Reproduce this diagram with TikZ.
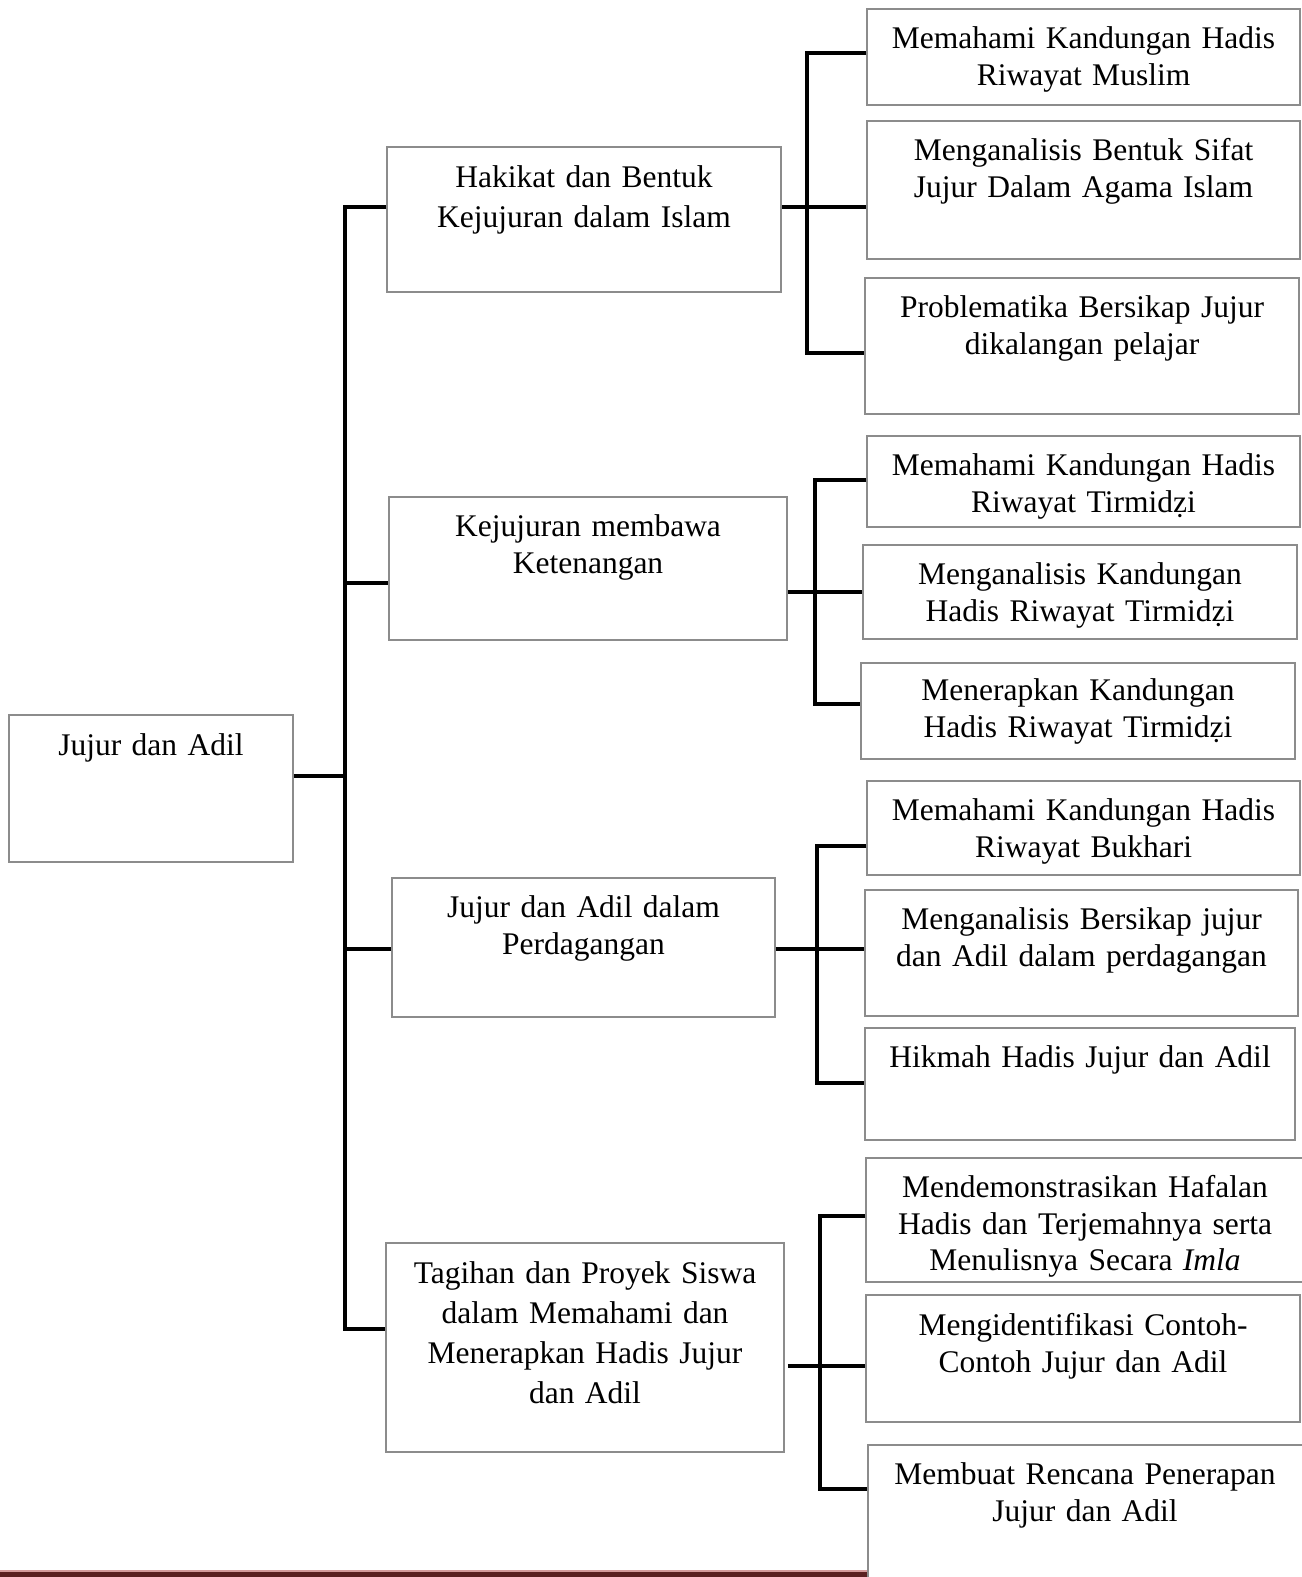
\documentclass[tikz,border=0pt]{standalone}
\usepackage{fontspec}
\setmainfont{Liberation Serif}
\usetikzlibrary{fit}
\definecolor{boxgray}{HTML}{8C8C8C}
\definecolor{barpink}{HTML}{D49A9A}
\definecolor{bardark}{HTML}{5A2020}
\newcommand{\fl}{\rule{0pt}{12pt}}
\begin{document}
\begin{tikzpicture}[x=0.5pt,y=-0.5pt,
  box/.style={draw=boxgray,line width=0.75pt,inner sep=0pt},
  conn/.style={draw=black,line width=1.7pt,line join=miter},
  txt/.style={anchor=north,inner sep=0pt,text width=230pt,align=center,font=\fontsize{15.75pt}{18.35pt}\selectfont},
  txtw/.style={txt,font=\fontsize{15.75pt}{20pt}\selectfont},
  txtm/.style={txt,font=\fontsize{15.75pt}{18.5pt}\selectfont}]
\useasboundingbox (0,0) rectangle (1301,1577);
% bottom bar
\fill[barpink] (0,1569.5) rectangle (867,1572);
\fill[bardark] (0,1572) rectangle (867,1577);
% root
\node[box,fit={(9,715) (293,862)}] (root) {};
\node[txtw] (roott) at (151,731) {\fl Jujur dan Adil};
% level 1
\node[box,fit={(387,147) (781,292)}] (A) {};
\node[txtw] (At) at (584,163) {\fl Hakikat dan Bentuk\\Kejujuran dalam Islam};
\node[box,fit={(389,497) (787,640)}] (B) {};
\node[txtm] (Bt) at (588,512) {\fl Kejujuran membawa\\Ketenangan};
\node[box,fit={(392,878) (775,1017)}] (C) {};
\node[txtm] (Ct) at (583.5,893) {\fl Jujur dan Adil dalam\\Perdagangan};
\node[box,fit={(386,1243) (784,1452)}] (D) {};
\node[txtw] (Dt) at (585,1259) {\fl Tagihan dan Proyek Siswa\\dalam Memahami dan\\Menerapkan Hadis Jujur\\dan Adil};
% level 2 - A
\node[box,fit={(867,9) (1300,105)}] (A1) {};
\node[txt] (A1t) at (1083.5,24) {\fl Memahami Kandungan Hadis\\Riwayat Muslim};
\node[box,fit={(867,121) (1300,259)}] (A2) {};
\node[txt] (A2t) at (1083.5,136) {\fl Menganalisis Bentuk Sifat\\Jujur Dalam Agama Islam};
\node[box,fit={(865,278) (1299,414)}] (A3) {};
\node[txt] (A3t) at (1082,293) {\fl Problematika Bersikap Jujur\\dikalangan pelajar};
% level 2 - B
\node[box,fit={(867,436) (1300,527)}] (B1) {};
\node[txt] (B1t) at (1083.5,451) {\fl Memahami Kandungan Hadis\\Riwayat Tirmidẓi};
\node[box,fit={(863,545) (1297,639)}] (B2) {};
\node[txt] (B2t) at (1080,560) {\fl Menganalisis Kandungan\\Hadis Riwayat Tirmidẓi};
\node[box,fit={(861,663) (1295,759)}] (B3) {};
\node[txt] (B3t) at (1078,676) {\fl Menerapkan Kandungan\\Hadis Riwayat Tirmidẓi};
% level 2 - C
\node[box,fit={(867,781) (1300,875)}] (C1) {};
\node[txt] (C1t) at (1083.5,796) {\fl Memahami Kandungan Hadis\\Riwayat Bukhari};
\node[box,fit={(865,890) (1298,1016)}] (C2) {};
\node[txt] (C2t) at (1081.5,905) {\fl Menganalisis Bersikap jujur\\dan Adil dalam perdagangan};
\node[box,fit={(865,1028) (1295,1140)}] (C3) {};
\node[txt] (C3t) at (1080,1043) {\fl Hikmah Hadis Jujur dan Adil};
% level 2 - D
\node[box,fit={(866,1158) (1310,1282)}] (D1) {};
\begin{scope}
\clip (866,1158) rectangle (1310,1282);
\node[txt] (D1t) at (1085,1173) {\fl Mendemonstrasikan Hafalan\\Hadis dan Terjemahnya serta\\Menulisnya Secara \textit{Imla}};
\end{scope}
\node[box,fit={(866,1295) (1300,1422)}] (D2) {};
\node[txt] (D2t) at (1083,1311) {\fl Mengidentifikasi Contoh-\\Contoh Jujur dan Adil};
\node[box,fit={(868,1445) (1310,1600)}] (D3) {};
\node[txt] (D3t) at (1085,1460) {\fl Membuat Rencana Penerapan\\Jujur dan Adil};
% junction coordinates
\coordinate (rj) at (345,776);
\coordinate (tA) at (345,207);
\coordinate (tB) at (345,583);
\coordinate (tC) at (345,949);
\coordinate (tD) at (345,1329);
\coordinate (a1) at (807,53);
\coordinate (a2) at (807,207);
\coordinate (a3) at (807,353);
\coordinate (b1) at (815,480);
\coordinate (b2) at (815,592);
\coordinate (b3) at (815,704);
\coordinate (c1) at (817,846);
\coordinate (c2) at (817,949);
\coordinate (c3) at (817,1083);
\coordinate (d1) at (820,1216);
\coordinate (d2) at (820,1366);
\coordinate (d3) at (820,1489);
% trunk
\draw[conn] (root.east |- rj) -- (rj);
\draw[conn] (A.west |- tA) -- (tA) -- (tD) -- (D.west |- tD);
\draw[conn] (tB) -- (B.west |- tB);
\draw[conn] (tC) -- (C.west |- tC);
% group A
\draw[conn] (A1.west |- a1) -- (a1) -- (a3) -- (A3.west |- a3);
\draw[conn] (A.east |- a2) -- (A2.west |- a2);
% group B
\draw[conn] (B1.west |- b1) -- (b1) -- (b3) -- (B3.west |- b3);
\draw[conn] (B.east |- b2) -- (B2.west |- b2);
% group C
\draw[conn] (C1.west |- c1) -- (c1) -- (c3) -- (C3.west |- c3);
\draw[conn] (C.east |- c2) -- (C2.west |- c2);
% group D
\draw[conn] (D1.west |- d1) -- (d1) -- (d3) -- (D3.west |- d3);
\draw[conn] ([xshift=1.5pt]D.east |- d2) -- (D2.west |- d2);
\end{tikzpicture}
\end{document}
